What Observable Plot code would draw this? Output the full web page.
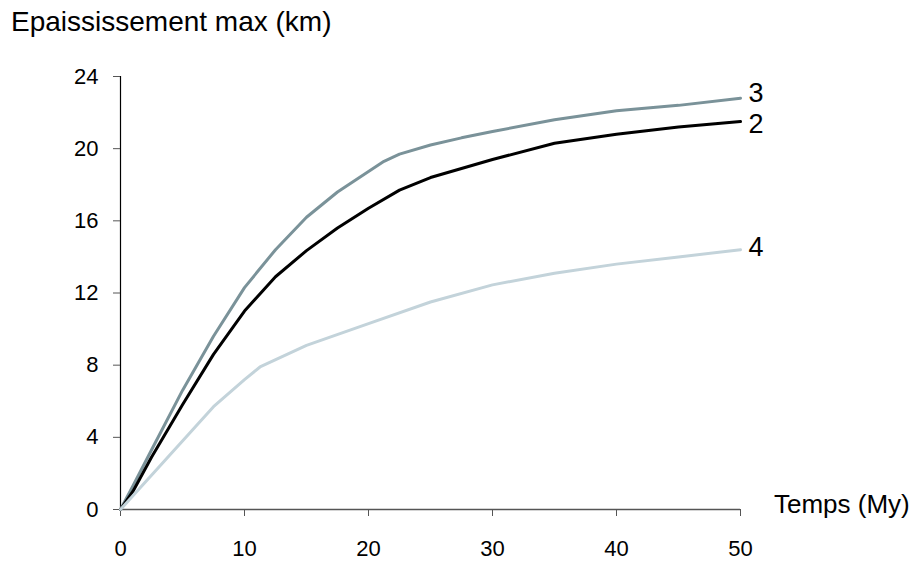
<!DOCTYPE html>
<html>
<head>
<meta charset="utf-8">
<script src="https://cdn.jsdelivr.net/npm/d3@7"></script>
<script src="https://cdn.jsdelivr.net/npm/@observablehq/plot@0.6"></script>
<style>
  html, body { margin: 0; padding: 0; background: #fff; overflow: hidden; }
  #wrap { position: relative; width: 920px; height: 561px; overflow: hidden; font-family: "Liberation Sans", Arial, sans-serif; }
  #title { position: absolute; left: 11px; top: 6px; font-size: 28px; color: #000; white-space: nowrap; }
  #xlabel { position: absolute; left: 774px; top: 489px; font-size: 26px; color: #000; white-space: nowrap; }
  #chart { position: absolute; left: 0; top: 0; }
</style>
</head>
<body>
<div id="wrap">
  <div id="chart"></div>
  <div id="title">Epaississement max (km)</div>
  <div id="xlabel">Temps (My)</div>
</div>
<script>
// Series values (time in My, max thickening in km)
const t2 = [0, 1, 2.5, 5, 7.5, 10, 12.5, 15, 17.5, 20, 22.5, 25, 30, 35, 40, 45, 50];
const v2 = [0, 1.0, 2.9, 5.8, 8.6, 11.0, 12.9, 14.35, 15.6, 16.7, 17.7, 18.4, 19.4, 20.3, 20.8, 21.2, 21.5];

const t3 = [0, 1, 2.5, 5, 7.5, 10, 12.5, 15, 17.5, 21.25, 22.5, 25, 27.5, 30, 35, 40, 45, 50];
const v3 = [0, 1.3, 3.3, 6.6, 9.6, 12.3, 14.4, 16.2, 17.6, 19.3, 19.7, 20.2, 20.6, 20.95, 21.6, 22.1, 22.4, 22.8];

const t4 = [0, 2.5, 5, 7.5, 10, 11.25, 15, 20, 25, 30, 35, 40, 45, 50];
const v4 = [0, 1.9, 3.8, 5.7, 7.2, 7.9, 9.1, 10.3, 11.5, 12.45, 13.1, 13.6, 14.0, 14.4];

const seriesNames = ["3", "2", "4"];
const seriesColors = ["#7a9299", "#000000", "#c3d3da"];
const xTicks = [0, 10, 20, 30, 40, 50];
const yTicks = [0, 4, 8, 12, 16, 20, 24];

const rows = [
  ...t3.map((t, i) => ({series: "3", t, v: v3[i]})),
  ...t2.map((t, i) => ({series: "2", t, v: v2[i]})),
  ...t4.map((t, i) => ({series: "4", t, v: v4[i]}))
];

const endLabel = (name, dy) => Plot.text(rows.filter(d => d.series === name),
  Plot.selectLast({x: "t", y: "v", text: "series", textAnchor: "start", dx: 8, dy, fontSize: 27, fill: "#000"}));

const chart = Plot.plot({
  width: 920,
  height: 561,
  marginLeft: 120,
  marginRight: 180,
  marginTop: 76,
  marginBottom: 52,
  style: {fontFamily: "'Liberation Sans', Arial, sans-serif", background: "white", overflow: "visible"},
  x: {domain: [0, 50]},
  y: {domain: [0, 24]},
  color: {domain: seriesNames, range: seriesColors},
  marks: [
    Plot.ruleY([0], {stroke: "#555", strokeWidth: 1.5}),
    Plot.ruleX([0], {stroke: "#000", strokeWidth: 1.2}),
    Plot.axisY({ticks: yTicks, tickSize: 7, tickPadding: 15, fontSize: 22, label: null, stroke: "#555", color: "#000"}),
    Plot.axisX({ticks: xTicks, tickSize: 7, tickPadding: 24, fontSize: 22, label: null, stroke: "#555", color: "#000"}),
    Plot.line(rows, {x: "t", y: "v", z: "series", stroke: "series", strokeWidth: 3, strokeLinejoin: "round"}),
    endLabel("3", -5),
    endLabel("2", 3),
    endLabel("4", -2)
  ]
});
document.getElementById("chart").appendChild(chart);
</script>
</body>
</html>
